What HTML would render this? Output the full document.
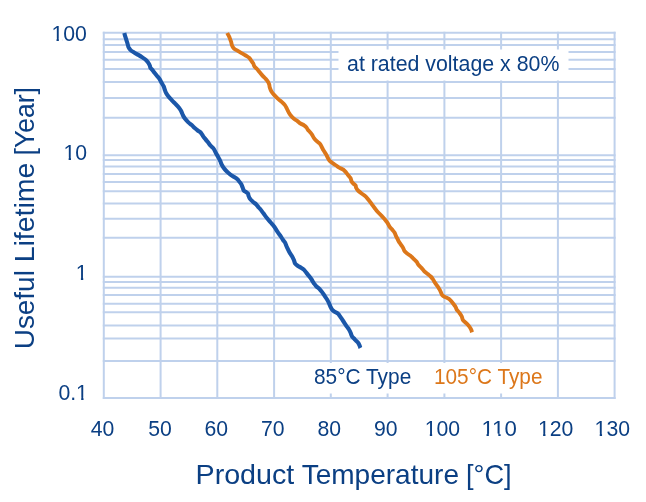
<!DOCTYPE html>
<html><head><meta charset="utf-8"><title>Useful Lifetime vs Product Temperature</title>
<style>
html,body{margin:0;padding:0;background:#fff;}
body{width:646px;height:502px;overflow:hidden;}
svg{display:block;}
text{font-family:"Liberation Sans",Arial,Helvetica,sans-serif;}
</style></head><body>
<svg width="646" height="502" viewBox="0 0 646 502">
<defs><clipPath id="c0"><path d="M418.71 406.00H466.13V433.40H418.71ZM429.81 433.40H432.16V439.00H429.81ZM436.02 433.40H448.82V439.00H436.02ZM447.82 433.40H460.63V439.00H447.82Z"/></clipPath><clipPath id="c1"><path d="M475.41 406.00H522.83V433.40H475.41ZM486.51 433.40H488.86V439.00H486.51ZM498.32 433.40H500.67V439.00H498.32ZM504.52 433.40H517.33V439.00H504.52Z"/></clipPath><clipPath id="c2"><path d="M532.01 406.00H579.43V433.40H532.01ZM543.11 433.40H545.46V439.00H543.11ZM549.32 433.40H562.12V439.00H549.32ZM561.12 433.40H573.93V439.00H561.12Z"/></clipPath><clipPath id="c3"><path d="M588.61 406.00H636.03V433.40H588.61ZM599.71 433.40H602.06V439.00H599.71ZM605.92 433.40H618.72V439.00H605.92ZM617.72 433.40H630.53V439.00H617.72Z"/></clipPath><clipPath id="c4"><path d="M45.41 11.00H92.83V38.40H45.41ZM56.51 38.40H58.86V44.00H56.51ZM62.72 38.40H75.52V44.00H62.72ZM74.52 38.40H87.33V44.00H74.52Z"/></clipPath><clipPath id="c5"><path d="M57.52 130.00H93.13V157.40H57.52ZM68.62 157.40H70.97V163.00H68.62ZM74.82 157.40H87.63V163.00H74.82Z"/></clipPath><clipPath id="c6"><path d="M69.79 250.00H93.59V277.40H69.79ZM80.89 277.40H83.24V283.00H80.89Z"/></clipPath><clipPath id="c7"><path d="M52.38 370.00H93.89V397.40H52.38ZM57.88 397.40H70.69V403.00H57.88ZM69.69 397.40H76.59V403.00H69.69ZM81.19 397.40H83.54V403.00H81.19Z"/></clipPath></defs>
<rect width="646" height="502" fill="#fff"/>
<g stroke="#bfd1ec" stroke-width="2" shape-rendering="auto">
<line x1="102.8" y1="32.8" x2="615.6" y2="32.8"/><line x1="102.8" y1="39.2" x2="615.6" y2="39.2"/><line x1="102.8" y1="44.9" x2="615.6" y2="44.9"/><line x1="102.8" y1="51.9" x2="615.6" y2="51.9"/><line x1="102.8" y1="59.7" x2="615.6" y2="59.7"/><line x1="102.8" y1="69.0" x2="615.6" y2="69.0"/><line x1="102.8" y1="82.0" x2="615.6" y2="82.0"/><line x1="102.8" y1="97.9" x2="615.6" y2="97.9"/><line x1="102.8" y1="117.8" x2="615.6" y2="117.8"/><line x1="102.8" y1="155.2" x2="615.6" y2="155.2"/><line x1="102.8" y1="160.0" x2="615.6" y2="160.0"/><line x1="102.8" y1="166.4" x2="615.6" y2="166.4"/><line x1="102.8" y1="173.9" x2="615.6" y2="173.9"/><line x1="102.8" y1="182.1" x2="615.6" y2="182.1"/><line x1="102.8" y1="191.3" x2="615.6" y2="191.3"/><line x1="102.8" y1="203.5" x2="615.6" y2="203.5"/><line x1="102.8" y1="218.7" x2="615.6" y2="218.7"/><line x1="102.8" y1="237.8" x2="615.6" y2="237.8"/><line x1="102.8" y1="276.8" x2="615.6" y2="276.8"/><line x1="102.8" y1="282.0" x2="615.6" y2="282.0"/><line x1="102.8" y1="287.7" x2="615.6" y2="287.7"/><line x1="102.8" y1="295.1" x2="615.6" y2="295.1"/><line x1="102.8" y1="303.7" x2="615.6" y2="303.7"/><line x1="102.8" y1="312.3" x2="615.6" y2="312.3"/><line x1="102.8" y1="325.5" x2="615.6" y2="325.5"/><line x1="102.8" y1="338.4" x2="615.6" y2="338.4"/><line x1="102.8" y1="361.0" x2="615.6" y2="361.0"/><line x1="102.8" y1="398.0" x2="615.6" y2="398.0"/><line x1="103.8" y1="31.8" x2="103.8" y2="399.0"/><line x1="160.6" y1="31.8" x2="160.6" y2="399.0"/><line x1="217.3" y1="31.8" x2="217.3" y2="399.0"/><line x1="274.1" y1="31.8" x2="274.1" y2="399.0"/><line x1="330.8" y1="31.8" x2="330.8" y2="399.0"/><line x1="387.6" y1="31.8" x2="387.6" y2="399.0"/><line x1="444.4" y1="31.8" x2="444.4" y2="399.0"/><line x1="501.1" y1="31.8" x2="501.1" y2="399.0"/><line x1="557.9" y1="31.8" x2="557.9" y2="399.0"/><line x1="614.6" y1="31.8" x2="614.6" y2="399.0"/>
</g>
<rect x="338.5" y="49.5" width="230" height="31" fill="#fff"/>
<rect x="300" y="363" width="250" height="30.5" fill="#fff"/>
<g fill="none" stroke-linejoin="round" stroke-linecap="butt">
<path stroke="#1b57a9" stroke-width="4.1" d="M124.3 33.0 C124.5 33.9 125.3 36.6 125.8 38.2 C126.3 39.9 126.8 41.4 127.3 42.9 C127.8 44.4 128.0 45.9 128.5 47.1 C129.1 48.3 129.7 49.2 130.6 50.1 C131.5 51.0 132.8 51.7 134.1 52.5 C135.4 53.3 136.9 54.1 138.3 54.9 C139.7 55.7 141.0 56.5 142.3 57.4 C143.6 58.3 145.1 59.2 146.2 60.2 C147.2 61.2 148.0 62.2 148.6 63.2 C149.2 64.2 149.7 65.3 150.0 66.1 C150.3 66.9 150.1 67.3 150.4 67.9 C150.8 68.5 151.4 68.9 152.1 69.7 C152.8 70.5 153.7 71.7 154.5 72.7 C155.3 73.7 156.1 74.7 156.9 75.7 C157.7 76.7 158.5 77.5 159.3 78.7 C160.1 79.9 160.9 81.5 161.6 82.8 C162.3 84.1 163.1 85.2 163.7 86.4 C164.2 87.6 164.5 88.9 164.9 90.0 C165.3 91.1 165.5 91.8 166.1 92.9 C166.7 94.0 167.6 95.3 168.5 96.5 C169.4 97.7 170.6 98.9 171.7 100.1 C172.8 101.3 174.2 102.5 175.3 103.7 C176.5 104.9 177.7 106.0 178.6 107.2 C179.5 108.4 180.3 109.5 181.0 110.8 C181.7 112.1 182.2 113.7 182.8 115.0 C183.5 116.3 184.0 117.3 184.9 118.5 C185.8 119.7 187.0 121.0 188.1 122.1 C189.2 123.2 190.6 124.1 191.7 125.1 C192.8 126.1 193.7 127.2 194.7 128.1 C195.7 129.0 196.9 129.9 197.7 130.5 C198.5 131.1 199.0 131.1 199.6 131.6 C200.2 132.1 200.8 132.6 201.4 133.4 C202.0 134.2 202.5 135.4 203.2 136.4 C203.9 137.4 204.8 138.4 205.6 139.4 C206.4 140.4 207.2 141.3 208.0 142.3 C208.8 143.3 209.4 144.3 210.3 145.3 C211.2 146.3 212.5 147.3 213.3 148.3 C214.1 149.3 214.6 150.3 215.1 151.3 C215.6 152.3 216.0 153.2 216.6 154.3 C217.2 155.4 217.9 156.4 218.5 157.6 C219.1 158.8 219.8 160.0 220.3 161.2 C220.9 162.4 221.2 163.7 221.8 164.8 C222.4 165.9 222.8 166.6 223.6 167.7 C224.4 168.8 225.5 170.2 226.6 171.3 C227.7 172.4 228.9 173.4 230.1 174.3 C231.3 175.2 232.5 175.9 233.7 176.7 C234.9 177.5 236.5 178.4 237.3 179.1 C238.2 179.8 238.2 180.2 238.8 181.0 C239.5 181.8 240.5 182.9 241.2 184.0 C241.8 185.1 242.2 186.5 242.7 187.6 C243.1 188.7 243.3 189.9 243.9 190.6 C244.5 191.3 245.3 191.5 246.0 192.0 C246.7 192.5 247.6 192.8 248.0 193.5 C248.4 194.2 248.2 195.0 248.6 195.9 C248.9 196.8 249.3 197.9 250.1 198.9 C250.8 199.9 252.1 201.0 253.1 201.9 C254.1 202.8 255.2 203.4 256.1 204.3 C257.0 205.2 257.9 206.6 258.5 207.3 C259.1 208.1 259.1 207.8 260.0 208.8 C260.9 209.9 262.4 212.0 263.6 213.6 C264.8 215.2 265.9 216.8 267.1 218.3 C268.3 219.8 269.5 221.1 270.7 222.5 C271.9 223.9 273.2 225.2 274.3 226.7 C275.4 228.2 276.4 230.1 277.4 231.6 C278.4 233.1 279.4 234.4 280.4 235.8 C281.3 237.2 282.3 238.8 283.1 240.0 C283.9 241.2 284.6 241.7 285.2 242.9 C285.8 244.1 286.2 245.6 286.9 247.1 C287.6 248.6 288.4 250.3 289.3 251.9 C290.2 253.5 291.5 255.3 292.3 256.7 C293.1 258.1 293.5 259.2 294.0 260.4 C294.5 261.6 294.6 262.8 295.2 263.7 C295.8 264.6 296.6 265.0 297.6 265.7 C298.6 266.4 300.0 267.1 301.1 267.8 C302.2 268.5 303.2 269.0 304.1 269.9 C305.0 270.8 305.7 271.9 306.5 272.9 C307.3 273.9 308.0 274.8 308.9 275.9 C309.8 277.0 310.8 278.3 311.6 279.5 C312.4 280.7 313.0 282.1 313.8 283.2 C314.6 284.3 315.2 285.2 316.2 286.2 C317.2 287.2 318.7 288.2 319.7 289.2 C320.7 290.2 321.3 291.0 322.1 292.1 C322.9 293.2 323.7 294.5 324.5 295.7 C325.3 296.9 326.1 298.0 326.9 299.3 C327.7 300.6 328.6 302.3 329.2 303.6 C329.8 304.9 330.1 306.1 330.7 307.2 C331.2 308.3 331.8 309.4 332.5 310.2 C333.2 311.0 334.2 311.4 335.1 312.0 C336.0 312.6 337.3 313.0 338.1 313.7 C338.9 314.4 339.2 315.1 339.9 316.1 C340.6 317.1 341.5 318.5 342.3 319.7 C343.1 320.9 343.9 322.1 344.7 323.3 C345.5 324.5 346.4 325.9 347.1 326.9 C347.8 327.9 348.2 328.2 348.8 329.2 C349.4 330.2 350.1 331.6 350.6 332.8 C351.1 334.0 351.3 335.2 352.0 336.3 C352.7 337.4 353.8 338.3 354.7 339.3 C355.6 340.3 356.9 341.3 357.7 342.3 C358.5 343.3 359.1 344.4 359.5 345.3 C359.9 346.2 360.2 347.6 360.4 348.0"/>
<path stroke="#dc771a" stroke-width="3.9" d="M227.2 33.0 C227.4 33.4 228.0 34.4 228.4 35.2 C228.8 36.0 229.2 36.5 229.6 37.6 C230.0 38.7 230.7 40.5 231.1 41.8 C231.5 43.1 231.6 44.3 232.0 45.4 C232.4 46.5 232.9 47.4 233.8 48.3 C234.7 49.2 236.1 49.9 237.4 50.7 C238.7 51.5 240.1 52.3 241.5 53.1 C242.9 53.9 244.4 54.7 245.7 55.5 C247.0 56.3 248.3 56.9 249.3 57.9 C250.3 58.9 250.9 60.3 251.6 61.2 C252.2 62.1 252.7 62.5 253.2 63.4 C253.7 64.3 253.8 65.5 254.4 66.4 C255.0 67.3 255.9 67.8 256.8 68.8 C257.7 69.8 258.7 71.1 259.7 72.3 C260.7 73.5 261.7 74.8 262.7 75.9 C263.7 77.0 264.8 77.9 265.7 78.9 C266.6 79.9 267.5 80.9 268.1 81.9 C268.7 82.9 269.0 84.0 269.3 84.9 C269.6 85.9 269.4 86.4 269.8 87.6 C270.2 88.8 270.8 90.5 271.6 91.8 C272.4 93.1 273.5 94.2 274.6 95.4 C275.7 96.6 276.9 97.8 278.1 98.9 C279.3 100.0 280.6 100.9 281.7 101.9 C282.8 102.9 283.9 103.9 284.7 104.9 C285.5 105.9 285.9 106.7 286.5 107.9 C287.1 109.1 287.9 110.9 288.6 112.2 C289.4 113.5 290.1 114.7 291.0 115.8 C291.9 116.9 292.9 117.9 294.0 118.8 C295.1 119.7 296.4 120.3 297.5 121.1 C298.6 121.9 299.4 122.8 300.5 123.5 C301.6 124.2 303.1 124.6 304.1 125.3 C305.1 126.0 306.0 126.8 306.6 127.6 C307.2 128.4 307.4 129.3 308.0 130.0 C308.6 130.7 309.2 131.2 309.9 132.0 C310.6 132.8 311.3 133.6 312.0 134.6 C312.7 135.6 313.2 137.1 314.0 138.2 C314.8 139.3 315.8 140.3 316.7 141.2 C317.6 142.1 318.9 142.6 319.7 143.5 C320.5 144.4 320.9 145.4 321.5 146.5 C322.1 147.6 322.6 148.8 323.3 150.1 C324.1 151.4 325.2 152.9 326.0 154.2 C326.8 155.5 327.2 156.7 327.8 157.8 C328.4 158.9 328.8 159.9 329.6 160.8 C330.4 161.7 331.5 162.3 332.6 163.1 C333.7 163.9 334.9 164.7 336.1 165.5 C337.3 166.3 338.5 167.2 339.7 167.9 C340.9 168.6 342.2 168.9 343.3 169.7 C344.4 170.5 345.5 171.8 346.3 172.7 C347.1 173.6 347.5 174.4 348.2 175.3 C348.9 176.2 349.9 176.9 350.5 178.0 C351.1 179.1 351.1 180.6 351.7 181.6 C352.2 182.6 353.1 183.3 353.8 184.0 C354.5 184.7 355.2 184.8 355.6 185.5 C356.0 186.2 355.8 187.1 356.2 187.9 C356.6 188.7 357.2 189.7 358.0 190.5 C358.8 191.3 359.8 192.1 360.9 192.9 C362.0 193.8 363.4 194.7 364.5 195.6 C365.6 196.5 366.6 197.6 367.5 198.6 C368.4 199.6 369.1 200.5 369.9 201.6 C370.7 202.7 371.4 203.8 372.3 204.9 C373.2 206.1 374.1 207.3 375.0 208.5 C375.9 209.7 376.7 210.8 377.8 212.0 C378.9 213.2 380.2 214.4 381.4 215.6 C382.5 216.8 383.7 218.0 384.7 219.2 C385.7 220.4 386.6 221.5 387.4 222.8 C388.2 224.1 388.9 225.7 389.7 226.9 C390.5 228.1 391.6 229.0 392.4 229.9 C393.2 230.8 393.8 231.4 394.5 232.6 C395.2 233.8 395.7 235.4 396.4 236.8 C397.1 238.2 397.8 239.7 398.5 241.0 C399.2 242.3 400.1 243.4 400.9 244.6 C401.7 245.8 402.6 247.0 403.2 248.1 C403.8 249.2 404.0 250.3 404.6 251.2 C405.2 252.1 406.1 252.7 407.1 253.5 C408.1 254.3 409.6 255.1 410.7 255.9 C411.8 256.8 412.4 257.7 413.4 258.6 C414.3 259.6 415.5 260.5 416.4 261.6 C417.3 262.7 417.9 264.1 418.8 265.2 C419.7 266.3 420.8 267.1 421.7 268.1 C422.6 269.1 423.1 270.1 424.1 271.1 C425.1 272.1 426.6 273.2 427.7 274.1 C428.8 275.0 429.8 275.6 430.7 276.5 C431.6 277.4 432.4 278.5 433.1 279.5 C433.8 280.5 434.2 281.6 434.9 282.6 C435.5 283.6 436.3 284.6 437.0 285.6 C437.7 286.6 438.5 287.7 439.1 288.8 C439.8 289.9 440.4 291.2 440.9 292.3 C441.4 293.4 441.6 294.5 442.3 295.3 C443.0 296.1 444.2 296.5 445.3 297.1 C446.4 297.7 447.9 298.2 448.9 298.9 C449.9 299.6 450.5 300.4 451.3 301.3 C452.1 302.2 453.0 303.4 453.7 304.3 C454.4 305.2 455.0 305.9 455.5 306.7 C456.0 307.5 456.0 308.4 456.6 309.4 C457.2 310.4 458.5 311.6 459.4 312.8 C460.2 314.0 461.1 315.2 461.7 316.4 C462.3 317.6 462.3 318.9 462.9 319.9 C463.5 320.9 464.4 321.4 465.3 322.3 C466.2 323.2 467.4 324.3 468.3 325.3 C469.2 326.3 469.9 327.4 470.5 328.3 C471.1 329.2 471.4 329.9 471.6 330.6 C471.8 331.3 471.8 332.0 471.9 332.3"/>
</g>
<g fill="#0b3f83" font-size="22">
<text x="51.41" y="40.6" textLength="35.42" lengthAdjust="spacingAndGlyphs" clip-path="url(#c4)">100</text><text x="63.52" y="160.2" textLength="23.61" lengthAdjust="spacingAndGlyphs" clip-path="url(#c5)">10</text><text x="75.79" y="279.8" textLength="11.81" lengthAdjust="spacingAndGlyphs" clip-path="url(#c6)">1</text><text x="58.38" y="399.8" textLength="29.51" lengthAdjust="spacingAndGlyphs" clip-path="url(#c7)">0.1</text>
<text x="90.82" y="436.4" textLength="23.61" lengthAdjust="spacingAndGlyphs">40</text><text x="148.22" y="436.4" textLength="23.61" lengthAdjust="spacingAndGlyphs">50</text><text x="204.42" y="436.4" textLength="23.61" lengthAdjust="spacingAndGlyphs">60</text><text x="260.92" y="436.4" textLength="23.61" lengthAdjust="spacingAndGlyphs">70</text><text x="317.42" y="436.4" textLength="23.61" lengthAdjust="spacingAndGlyphs">80</text><text x="373.92" y="436.4" textLength="23.61" lengthAdjust="spacingAndGlyphs">90</text><text x="424.71" y="436.4" textLength="35.42" lengthAdjust="spacingAndGlyphs" clip-path="url(#c0)">100</text><text x="481.41" y="436.4" textLength="35.42" lengthAdjust="spacingAndGlyphs" clip-path="url(#c1)">110</text><text x="538.01" y="436.4" textLength="35.42" lengthAdjust="spacingAndGlyphs" clip-path="url(#c2)">120</text><text x="594.61" y="436.4" textLength="35.42" lengthAdjust="spacingAndGlyphs" clip-path="url(#c3)">130</text>
</g>
<text x="347.03" y="71.00" font-size="22" fill="#0b3f83" textLength="212.39" lengthAdjust="spacingAndGlyphs">at rated voltage x 80%</text>
<text x="314.03" y="384.20" font-size="21.5" fill="#0b3f83" textLength="97.22" lengthAdjust="spacingAndGlyphs">85°C Type</text>
<text x="434.01" y="384.20" font-size="21.5" fill="#dc771a" textLength="108.49" lengthAdjust="spacingAndGlyphs">105°C Type</text>
<text x="195.53" y="484.00" font-size="28.5" fill="#0b3f83" textLength="98.77" lengthAdjust="spacingAndGlyphs">Product</text><text x="301.67" y="484.00" font-size="28.5" fill="#0b3f83" textLength="157.33" lengthAdjust="spacingAndGlyphs">Temperature</text><text x="466.06" y="484.00" font-size="28.5" fill="#0b3f83" textLength="45.61" lengthAdjust="spacingAndGlyphs">[°C]</text>
<text transform="translate(34.40 349.28) rotate(-90)" x="0" y="0" font-size="28.5" fill="#0b3f83" textLength="79.13" lengthAdjust="spacingAndGlyphs">Useful</text><text transform="translate(34.40 262.36) rotate(-90)" x="0" y="0" font-size="28.5" fill="#0b3f83" textLength="99.82" lengthAdjust="spacingAndGlyphs">Lifetime</text><text transform="translate(34.40 155.50) rotate(-90)" x="0" y="0" font-size="28.5" fill="#0b3f83" textLength="68.40" lengthAdjust="spacingAndGlyphs">[Year]</text>
</svg>
</body></html>
